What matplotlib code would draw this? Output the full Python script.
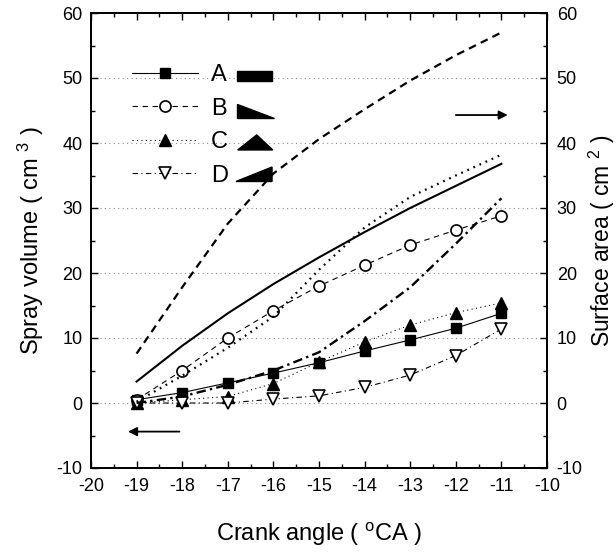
import matplotlib
matplotlib.use("Agg")
import matplotlib.pyplot as plt
from matplotlib.patches import Polygon, Rectangle
from matplotlib.ticker import MultipleLocator

plt.rcParams['font.family'] = ['Liberation Sans', 'DejaVu Sans']
plt.rcParams['mathtext.fontset'] = 'custom'
plt.rcParams['mathtext.rm'] = 'Liberation Sans'
plt.rcParams['axes.unicode_minus'] = False

# ---- data ----
crank = [-19, -18, -17, -16, -15, -14, -13, -12, -11]
labels = ['A', 'B', 'C', 'D']

# spray volume (left axis, markers)
vol_A = [0.5, 1.6, 3.1, 4.6, 6.2, 8.0, 9.7, 11.5, 13.8]
vol_B = [0.5, 5.0, 10.0, 14.2, 18.0, 21.2, 24.3, 26.6, 28.8]
vol_C = [0.0, 0.5, 1.0, 3.0, 6.3, 9.4, 12.0, 13.9, 15.4]
vol_D = [0.0, 0.0, 0.0, 0.6, 1.1, 2.4, 4.3, 7.3, 11.4]

# surface area (right axis, plain lines)
area_A = [3.3, 8.8, 13.8, 18.3, 22.4, 26.3, 30.0, 33.4, 36.8]
area_B = [7.6, 17.8, 27.6, 35.3, 40.6, 45.2, 49.6, 53.5, 57.0]
area_C = [0.2, 4.2, 8.5, 13.3, 20.5, 27.0, 31.7, 35.0, 38.2]
area_D = [0.0, 1.0, 2.8, 5.0, 7.8, 12.6, 17.8, 24.5, 31.5]

xlim = (-20, -10)
ylim = (-10, 60)

# ---- figure ----
fig = plt.figure(figsize=(6.16, 5.52), dpi=100)
ax = fig.add_axes([91/616, 1 - 468/552, 456/616, 455/552])
ax2 = ax.twinx()

# gridlines
for g in range(0, 60, 10):
    ax.axhline(g, color='0.55', lw=0.8, ls=(0, (1, 3)), zorder=0)

# surface-area curves (right axis)
ax2.plot(crank, area_A, color='k', lw=1.5, ls='-')
ax2.plot(crank, area_B, color='k', lw=1.6, ls=(0, (3.5, 2.4)))
ax2.plot(crank, area_C, color='k', lw=1.6, ls=(0, (0.8, 2.2)))
ax2.plot(crank, area_D, color='k', lw=1.7, ls=(0, (4, 1.8, 1, 1.8)))

# spray volume series (left axis)
lA, = ax.plot(crank, vol_A, color='k', lw=0.8, ls='-', marker='s', ms=6.5,
              mfc='k', mec='k', zorder=4)
lB, = ax.plot(crank, vol_B, color='k', lw=0.8, ls=(0, (5, 4)), marker='o', ms=8,
              mfc='white', mec='k', mew=1.2, zorder=4)
lC, = ax.plot(crank, vol_C, color='k', lw=0.8, ls=(0, (1, 3)), marker='^', ms=8,
              mfc='k', mec='k', zorder=4)
lD, = ax.plot(crank, vol_D, color='k', lw=0.8, ls=(0, (5, 3, 1, 3)), marker='v', ms=8,
              mfc='white', mec='k', mew=1.2, zorder=4)

# axes setup
for a in (ax, ax2):
    a.set_xlim(*xlim)
    a.set_ylim(*ylim)
    a.yaxis.set_major_locator(MultipleLocator(10))
    a.yaxis.set_minor_locator(MultipleLocator(5))
ax.xaxis.set_major_locator(MultipleLocator(1))
ax.xaxis.set_minor_locator(MultipleLocator(0.5))

ax.tick_params(which='both', direction='in', top=True, labelsize=13, width=1.0)
ax.tick_params(which='major', length=5)
ax.tick_params(which='minor', length=3)
ax.tick_params(axis='x', pad=7)
ax.tick_params(axis='y', pad=6)
ax2.tick_params(which='both', direction='in', labelsize=13, width=1.0, pad=7)
ax2.tick_params(which='major', length=5)
ax2.tick_params(which='minor', length=3)
for a in (ax, ax2):
    for s in a.spines.values():
        s.set_linewidth(1.3)

ax.set_xlabel('Crank angle ( $\\mathregular{^{o}}$CA )', fontsize=17, labelpad=19)
ax.set_ylabel('Spray volume ( cm $\\mathregular{^{3}}$ )', fontsize=17, labelpad=8)
ax2.set_ylabel('Surface area ( cm $\\mathregular{^{2}}$ )', fontsize=16.5, labelpad=3)

# arrows
ax.annotate('', xy=(-19.25, -4.4), xytext=(-18.0, -4.4),
            arrowprops=dict(arrowstyle='-|>', color='k', lw=1.3, mutation_scale=13))
ax.annotate('', xy=(-10.8, 44.3), xytext=(-12.06, 44.3),
            arrowprops=dict(arrowstyle='-|>', color='k', lw=1.3, mutation_scale=13))

# legend
leg = ax.legend([lA, lB, lC, lD], labels, loc='upper left',
                bbox_to_anchor=(0.09, 0.888), frameon=False, fontsize=17,
                handlelength=2.8, handletextpad=0.55, labelspacing=0.49,
                borderpad=0, borderaxespad=0)
leg.set_zorder(6)

# injection-shape icons next to legend labels
tr = ax.transAxes
icons = [
    Rectangle((0.320, 0.851), 0.077, 0.0215, transform=tr),
    Polygon([(0.3195, 0.7993), (0.3195, 0.7686), (0.401, 0.7686)], closed=True, transform=tr),
    Polygon([(0.3217, 0.699), (0.3985, 0.699), (0.3634, 0.732)], closed=True, transform=tr),
    Polygon([(0.318, 0.6297), (0.397, 0.6615), (0.397, 0.6297)], closed=True, transform=tr),
]
for p in icons:
    p.set_facecolor('k')
    p.set_edgecolor('k')
    p.set_zorder(6)
    ax.add_patch(p)

fig.savefig('out.png', dpi=100)
